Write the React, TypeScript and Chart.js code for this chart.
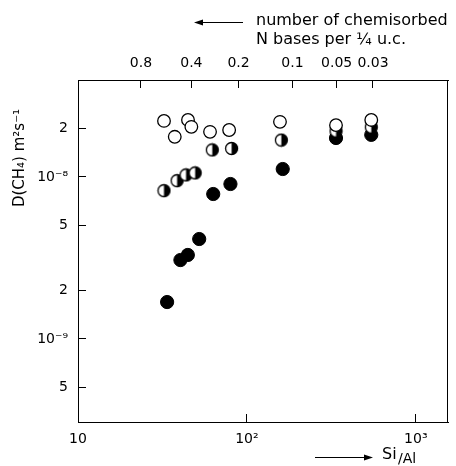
import React, { useEffect, useRef } from 'react';
import { Chart, registerables } from 'chart.js';

Chart.register(...registerables);

// Si/Al ratio (x) and D(CH4) in m^2 s^-1 (y)
const siAlOpen = [32.3, 37.4, 44.8, 46.9, 60.5, 78.5, 157, 337, 545];
const dOpen = [2.22e-8, 1.77e-8, 2.25e-8, 2.04e-8, 1.9e-8, 1.95e-8, 2.19e-8, 2.09e-8, 2.25e-8];

const siAlHalf = [32.3, 38.6, 43.6, 49.4, 62.4, 81.2, 160, 337, 545];
const dHalf = [8.23e-9, 9.49e-9, 1.03e-8, 1.06e-8, 1.47e-8, 1.5e-8, 1.69e-8, 1.92e-8, 2.03e-8];

const siAlFilled = [33.7, 40.4, 44.7, 52.2, 63.2, 79.9, 163, 337, 545];
const dFilled = [1.69e-9, 3.07e-9, 3.3e-9, 4.14e-9, 7.85e-9, 9.05e-9, 1.12e-8, 1.74e-8, 1.82e-8];

const xTickValues = [10, 100, 1000];
const xTickLabels = ['10', '10²', '10³'];
const yTickValues = [5e-10, 1e-9, 2e-9, 5e-9, 1e-8, 2e-8];
const yTickLabels = ['5', '10⁻⁹', '2', '5', '10⁻⁸', '2'];
// top axis: number of chemisorbed N bases per 1/4 u.c., placed at the Si/Al value it corresponds to
const topTickSiAl = [23.6, 46.9, 89.3, 186, 340, 558];
const topTickLabels = ['0.8', '0.4', '0.2', '0.1', '0.05', '0.03'];

const X_MIN = 10;
const X_MAX = 1560;
const Y_MIN = 3.07e-10;
const Y_MAX = 3.97e-8;

const FONT = 'DejaVu Sans';

function makeHalfMarker(): HTMLCanvasElement {
  const c = document.createElement('canvas');
  c.width = 15;
  c.height = 15;
  const ctx = c.getContext('2d')!;
  const cx = 7.5, cy = 7.5, r = 6;
  ctx.beginPath();
  ctx.arc(cx, cy, r, 0, Math.PI * 2);
  ctx.fillStyle = '#fff';
  ctx.fill();
  ctx.beginPath();
  ctx.moveTo(cx, cy - r);
  ctx.arc(cx, cy, r, -Math.PI / 2, Math.PI / 2, false);
  ctx.closePath();
  ctx.fillStyle = '#000';
  ctx.fill();
  ctx.beginPath();
  ctx.arc(cx, cy, r, 0, Math.PI * 2);
  ctx.lineWidth = 1.3;
  ctx.strokeStyle = '#000';
  ctx.stroke();
  return c;
}

const decorPlugin = {
  id: 'decor',
  afterDraw(chart: any) {
    const { ctx, chartArea } = chart;
    ctx.save();
    ctx.strokeStyle = '#000';
    ctx.fillStyle = '#000';
    ctx.lineWidth = 1;
    // right border
    ctx.beginPath();
    ctx.moveTo(Math.round(chartArea.right) - 0.5, chartArea.top);
    ctx.lineTo(Math.round(chartArea.right) - 0.5, chartArea.bottom);
    ctx.stroke();

    // y title
    ctx.save();
    ctx.translate(20, 158);
    ctx.rotate(-Math.PI / 2);
    ctx.font = `15px "${FONT}"`;
    ctx.textAlign = 'center';
    ctx.textBaseline = 'middle';
    ctx.fillText('D(CH₄) m²s⁻¹', 0, 0);
    ctx.restore();

    // top annotation
    ctx.font = `16px "${FONT}"`;
    ctx.textAlign = 'left';
    ctx.textBaseline = 'middle';
    ctx.fillText('number of chemisorbed', 256, 21);
    ctx.fillText('N bases per ¼ u.c.', 256, 40);
    // arrow pointing left
    ctx.beginPath();
    ctx.moveTo(200, 22.5);
    ctx.lineTo(243, 22.5);
    ctx.stroke();
    ctx.beginPath();
    ctx.moveTo(194, 22.5);
    ctx.lineTo(203, 19.5);
    ctx.lineTo(203, 25.5);
    ctx.closePath();
    ctx.fill();

    // bottom annotation
    ctx.beginPath();
    ctx.moveTo(315, 457.5);
    ctx.lineTo(366, 457.5);
    ctx.stroke();
    ctx.beginPath();
    ctx.moveTo(373, 457.5);
    ctx.lineTo(364, 454.5);
    ctx.lineTo(364, 460.5);
    ctx.closePath();
    ctx.fill();
    ctx.font = `16px "${FONT}"`;
    ctx.textBaseline = 'alphabetic';
    ctx.fillText('Si', 382, 459);
    ctx.font = `14px "${FONT}"`;
    ctx.fillText('/Al', 398, 463);
    ctx.restore();
  },
};

export default function App() {
  const ref = useRef<HTMLCanvasElement | null>(null);

  useEffect(() => {
    if (!ref.current) return;
    const half = makeHalfMarker();
    const toPts = (xs: number[], ys: number[]) => xs.map((x, i) => ({ x, y: ys[i] }));
    const tickFont = { family: FONT, size: 14 };
    const gridCommon = {
      display: true,
      drawOnChartArea: false,
      drawTicks: true,
      tickLength: -8,
      color: '#000',
      lineWidth: 1,
    };
    const chart = new Chart(ref.current, {
      type: 'scatter',
      data: {
        datasets: [
          {
            label: 'open',
            data: toPts(siAlOpen, dOpen),
            pointStyle: 'circle',
            pointRadius: 6.3,
            pointBackgroundColor: '#fff',
            pointBorderColor: '#000',
            pointBorderWidth: 1.3,
          },
          {
            label: 'half',
            data: toPts(siAlHalf, dHalf),
            pointStyle: half as any,
            pointRadius: 6.3,
          },
          {
            label: 'filled',
            data: toPts(siAlFilled, dFilled),
            pointStyle: 'circle',
            pointRadius: 6.6,
            pointBackgroundColor: '#000',
            pointBorderColor: '#000',
            pointBorderWidth: 1,
          },
        ],
      },
      options: {
        responsive: false,
        animation: false,
        devicePixelRatio: 1,
        layout: { padding: { left: 0, right: 3, top: 0, bottom: 0 } },
        plugins: {
          legend: { display: false },
          tooltip: { enabled: false },
          title: { display: false },
        },
        scales: {
          x: {
            type: 'logarithmic',
            position: 'bottom',
            min: X_MIN,
            max: X_MAX,
            bounds: 'data',
            grid: gridCommon,
            border: { display: true, color: '#000', width: 1 },
            ticks: {
              color: '#000',
              font: tickFont,
              padding: 17,
              autoSkip: false,
              maxRotation: 0,
              callback: (_v: any, i: number) => xTickLabels[i],
            },
            afterBuildTicks: (s: any) => {
              s.ticks = xTickValues.map((v) => ({ value: v }));
            },
            afterFit: (s: any) => {
              s.height = 44;
            },
          },
          x2: {
            type: 'logarithmic',
            position: 'top',
            min: X_MIN,
            max: X_MAX,
            bounds: 'data',
            grid: gridCommon,
            border: { display: true, color: '#000', width: 1 },
            ticks: {
              color: '#000',
              font: tickFont,
              padding: 16,
              autoSkip: false,
              maxRotation: 0,
              callback: (_v: any, i: number) => topTickLabels[i],
            },
            afterBuildTicks: (s: any) => {
              s.ticks = topTickSiAl.map((v) => ({ value: v }));
            },
            afterFit: (s: any) => {
              s.height = 80;
            },
          },
          y: {
            type: 'logarithmic',
            position: 'left',
            min: Y_MIN,
            max: Y_MAX,
            bounds: 'data',
            grid: gridCommon,
            border: { display: true, color: '#000', width: 1 },
            ticks: {
              color: '#000',
              font: tickFont,
              padding: 18,
              autoSkip: false,
              callback: (_v: any, i: number) => yTickLabels[i],
            },
            afterBuildTicks: (s: any) => {
              s.ticks = yTickValues.map((v) => ({ value: v }));
            },
            afterFit: (s: any) => {
              s.width = 78;
            },
          },
        },
      } as any,
      plugins: [decorPlugin],
    });
    return () => chart.destroy();
  }, []);

  return (
    <div style={{ position: 'fixed', left: 0, top: 0, width: 456, height: 466, background: '#fff' }}>
      <canvas ref={ref} width={456} height={466} style={{ display: 'block', width: 456, height: 466 }} />
    </div>
  );
}
